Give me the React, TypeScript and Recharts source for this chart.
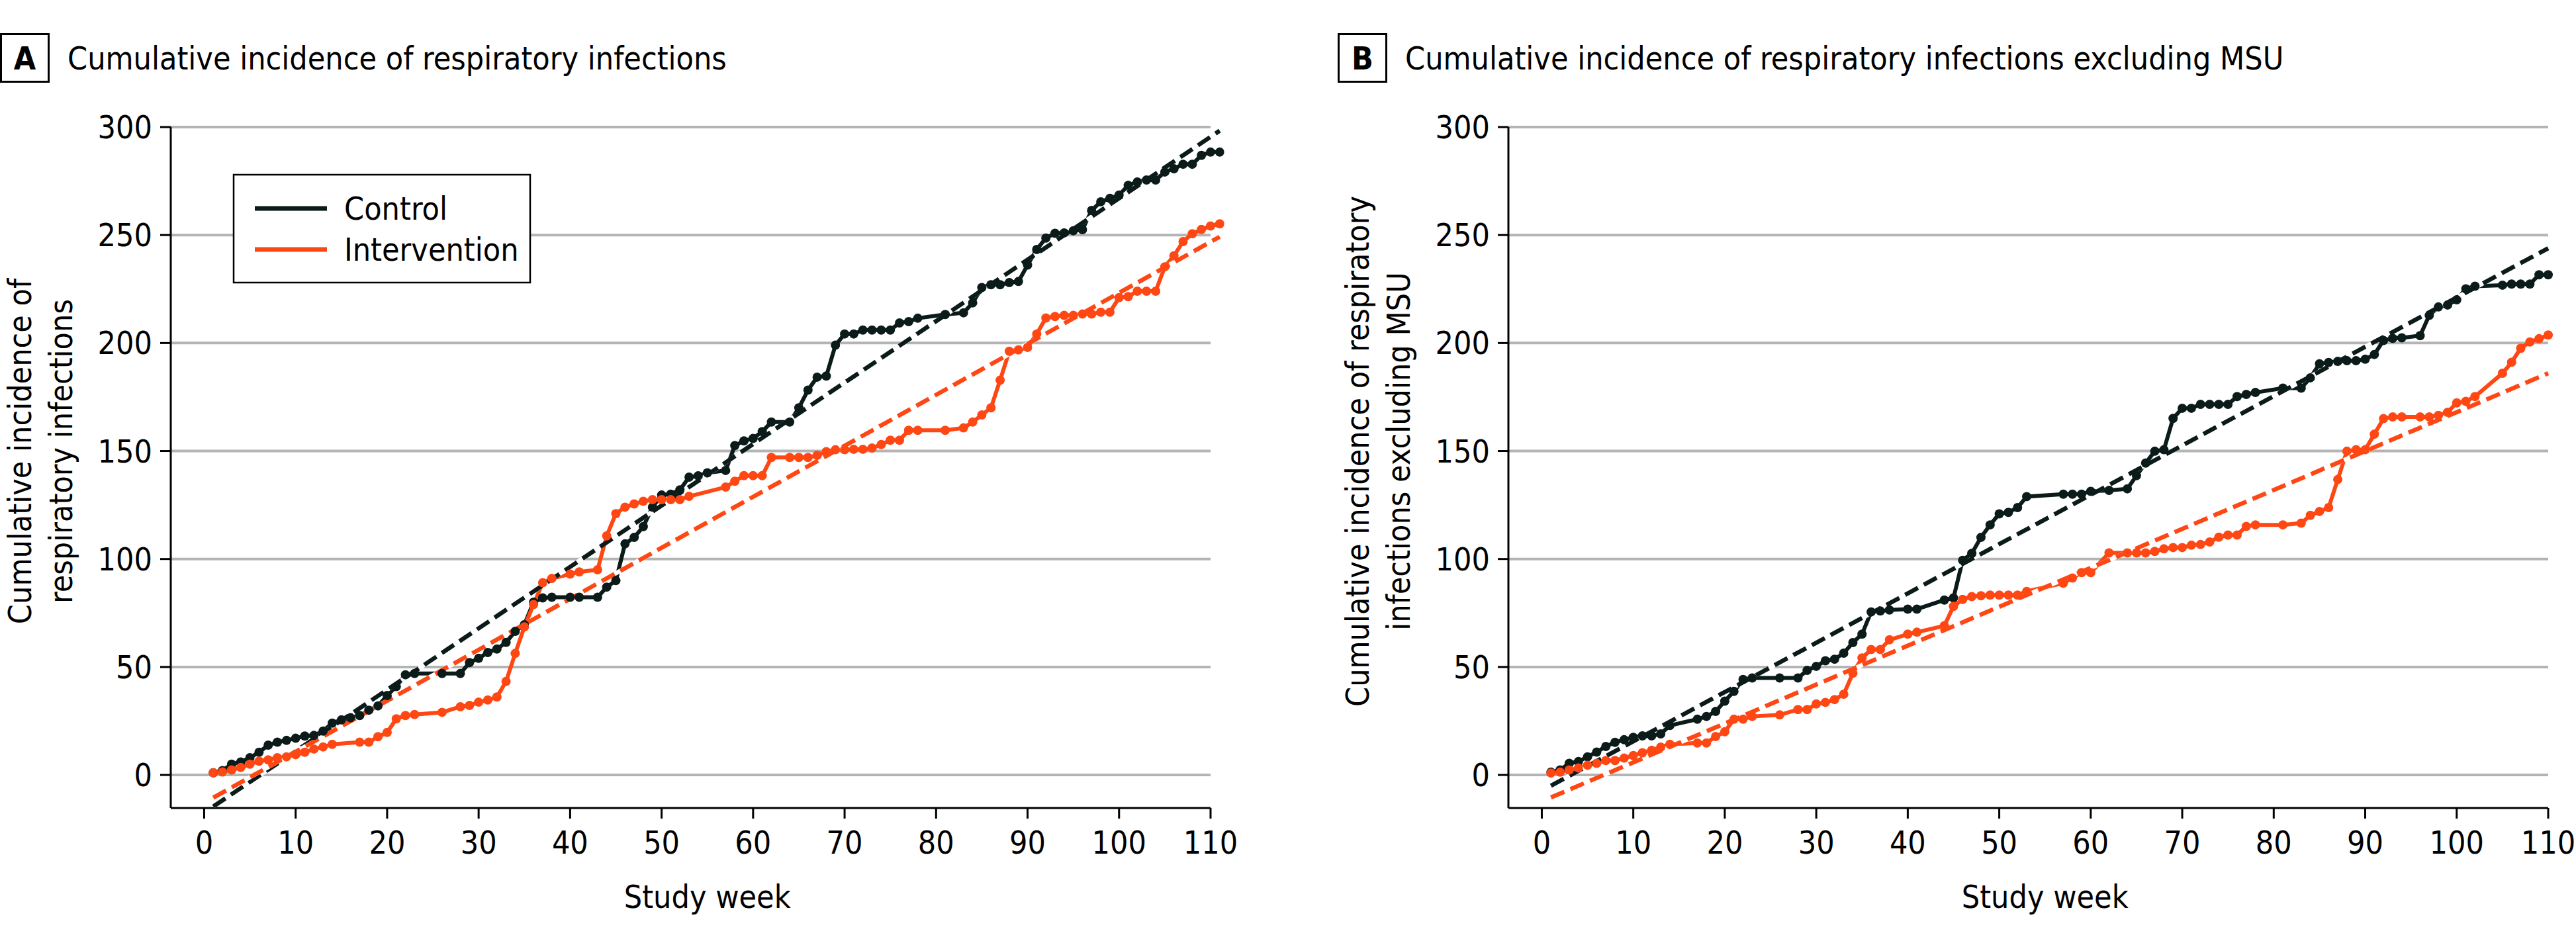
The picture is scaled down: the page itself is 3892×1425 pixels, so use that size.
import React from "react";
import { LineChart, Line, XAxis, YAxis, ReferenceLine } from "recharts";

const FONT = "'DejaVu Sans Condensed', 'DejaVu Sans', sans-serif";
const CONTROL = "#0b1b1a";
const INTERVENTION = "#ff4714";
const GRID = "#b4b4b4";

// axis ranges (study week / cumulative count)
const X_MIN = -3.65;
const X_MAX = 111.5;
const X_END = 110;
const Y_MIN = -15.3;
const Y_MAX = 300;
const xTicks = [0, 10, 20, 30, 40, 50, 60, 70, 80, 90, 100, 110];
const yTicks = [0, 50, 100, 150, 200, 250, 300];

// panel A: all respiratory infections
const weeksA = [
  1, 2, 3, 4, 5, 6, 7, 8, 9, 10, 11, 12, 13, 14, 15, 16, 17, 18, 19, 20, 21, 22, 23, 26, 28, 29, 30, 31, 32, 33,
  34, 35, 36, 37, 38, 40, 41, 43, 44, 45, 46, 47, 48, 49, 50, 51, 52, 53, 54, 55, 57, 58, 59, 60, 61, 62, 64, 65,
  66, 67, 68, 69, 70, 71, 72, 73, 74, 75, 76, 77, 78, 81, 83, 84, 85, 86, 87, 88, 89, 90, 91, 92, 93, 94, 95, 96,
  97, 98, 99, 100, 101, 102, 103, 104, 105, 106, 107, 108, 109, 110, 111,
];
const controlA = [
  1, 2, 5, 6, 8, 10.5, 13.8, 15.2, 16, 17, 18, 18.3, 20.3, 24, 25.5, 26.5, 27.5, 30, 32, 36.8, 40.9, 46.4, 47,
  47, 47, 52, 54, 56.7, 58.3, 61.4, 66.5, 69.6, 80, 82, 82.3, 82.3, 82.3, 82.3, 87, 90, 107, 110, 115, 124, 129.6,
  130, 132, 137.9, 138.5, 139.9, 141, 152.5, 154.7, 155.8, 159, 163.4, 163.4, 170, 178.2, 184.2, 184.7, 199,
  204.2, 204.2, 206, 206, 206, 206, 209.3, 209.9, 211.5, 213.2, 214, 218.6, 225.7, 227, 227, 228, 228.5, 236.1,
  243.3, 248.6, 250.8, 251, 252, 252.5, 261.4, 265.4, 267, 268.5, 273, 274.6, 275.5, 275.5, 279.2, 280.7, 282.8,
  282.8, 286.9, 288.4, 288.4,
];
const interventionA = [
  1, 1.4, 2.3, 3.5, 5, 6.4, 7, 8, 8.4, 9.4, 10.5, 12, 13, 14.2, null, null, 15.2, 15.2, 17.7, 19.7, 26, 27.5, 28,
  29, 31.6, 32.2, 33.7, 34.7, 36.1, 43.3, 56.3, 68.6, 78.9, 89, 91, 93, 94, 95, 110.7, 121, 124, 125.5, 126.7,
  127.5, 127.5, 127.5, 127.5, 129, null, null, 133.3, 136, 138.6, 138.6, 138.6, 147, 147, 147, 147, 148, 149.7,
  150.6, 150.6, 150.8, 150.8, 151.4, 153, 155, 155, 159.6, 159.6, 159.6, 160.7, 163.4, 166.7, 170, 182.8, 196.2,
  196.8, 198, 204.2, 211.6, 212.3, 212.8, 212.8, 213.4, 213.4, 214.3, 214.3, 221, 221.5, 224, 224, 224, 235.3,
  240.4, 247, 250.6, 252.6, 254.2, 255.2,
];
const trendWeeksA = [1, 111];
const controlTrendA = [-14.6, 298.3];
const interventionTrendA = [-10.5, 249.2];

// panel B: respiratory infections excluding MSU
const weeksB = [
  1, 2, 3, 4, 5, 6, 7, 8, 9, 10, 11, 12, 13, 14, 17, 18, 19, 20, 21, 22, 23, 26, 28, 29, 30, 31, 32, 33, 34, 35,
  36, 37, 38, 40, 41, 44, 45, 46, 47, 48, 49, 50, 51, 52, 53, 57, 58, 59, 60, 62, 64, 65, 66, 67, 68, 69, 70, 71,
  72, 73, 74, 75, 76, 77, 78, 81, 83, 84, 85, 86, 87, 88, 89, 90, 91, 92, 93, 94, 96, 97, 98, 99, 100, 101, 102,
  105, 106, 107, 108, 109, 110,
];
const controlB = [
  1.3, 2.3, 5.4, 6.2, 8.4, 10.6, 13.2, 15.1, 16.3, 17.4, 18.1, 18.1, 19, 22.9, 25.8, 27.1, 29.4, 34.2, 38.7, 44.2,
  44.9, 44.9, 44.9, 48.4, 50.3, 52.9, 53.6, 56.4, 61.3, 65.2, 75.5, 75.9, 76.4, 76.8, 76.8, 81, 82, 99.4, 102.6,
  110, 115.8, 120.9, 121.6, 123.8, 128.9, 130, 130, 130, 131.3, 131.8, 132.5, 138.6, 144.4, 149.9, 150.6, 165.1,
  169.8, 169.8, 171.6, 171.6, 171.6, 171.6, 175.2, 176.2, 177.1, 179.1, 179.1, 183.9, 190.4, 191, 191.5, 191.8,
  191.8, 192.5, 194.7, 201.2, 202.2, 202.4, 203.4, 212.8, 216.7, 217.6, 220, 225.1, 226.3, 226.8, 227.3, 227.3,
  227.3, 231.6, 231.6,
];
const interventionB = [
  0.9, 1.3, 2.3, 3.2, 4.5, 5.4, 6.7, 6.7, 7.8, 9, 10.3, 11.4, 12.9, 14.2, 14.8, 14.8, 17.8, 20, 25.8, 25.8, 27.1,
  27.8, 30.3, 30.3, 32.9, 33.6, 34.9, 37.4, 47.1, 54.2, 58.1, 58.1, 62.6, 65.2, 66.1, 69.1, 78.1, 81.3, 82.6, 83,
  83.3, 83.3, 83.3, 83.3, 85, 88.8, 91.2, 93.7, 93.7, 102.8, 102.8, 102.8, 102.8, 103.5, 104.7, 105.3, 105.3,
  106.4, 106.7, 107.9, 110.1, 111.1, 111.1, 115.1, 115.8, 115.8, 116.6, 120.2, 122, 123.8, 136.8, 149.9, 150.6,
  150.6, 157.8, 165, 165.8, 165.8, 165.8, 165.8, 166.5, 167.9, 172.3, 173, 175.2, 186, 191.1, 197.6, 200.5, 202,
  203.7,
];
const trendWeeksB = [1, 110];
const controlTrendB = [-5, 243.9];
const interventionTrendB = [-10.4, 186];

const legendItems = [
  { label: "Control", color: CONTROL },
  { label: "Intervention", color: INTERVENTION },
];

// layout of one panel, in page pixels
const CHART_W = 1880;
const CHART_H = 1425;
const PLOT_LEFT = 258;
const PLOT_TOP = 192;
const PLOT_BOTTOM = 1221;
const PX_PER_WEEK = 13.823;
const PLOT_W = (X_MAX - X_MIN) * PX_PER_WEEK;
const Y_AXIS_W = 80;
const X_AXIS_H = 150;
const SERIES_W = 6;
const TREND_W = 6.5;
const DASH = "22 10";

function Panel({ left, letter, title, yLines, weeks, control, intervention, trendWeeks, controlTrend, interventionTrend, showLegend }) {
  const rows = weeks.map((w, i) => ({ week: w, control: control[i], intervention: intervention[i] }));
  const trendRows = trendWeeks.map((w, i) => ({ week: w, control: controlTrend[i], intervention: interventionTrend[i] }));
  const tickStyle = { fontSize: 48, fill: "#000", fontFamily: FONT };

  return (
    <div style={{ position: "absolute", left, top: 0, width: CHART_W, height: CHART_H }}>
      <LineChart
        width={CHART_W}
        height={CHART_H}
        margin={{
          top: PLOT_TOP,
          left: PLOT_LEFT - Y_AXIS_W,
          right: CHART_W - PLOT_LEFT - PLOT_W,
          bottom: CHART_H - PLOT_BOTTOM - X_AXIS_H,
        }}
      >
        <XAxis
          type="number"
          dataKey="week"
          domain={[X_MIN, X_MAX]}
          allowDataOverflow
          ticks={xTicks}
          interval={0}
          height={X_AXIS_H}
          axisLine={false}
          tickLine={{ stroke: "#000", strokeWidth: 3 }}
          tickSize={16}
          tickMargin={19}
          tick={tickStyle}
        />
        <YAxis
          type="number"
          domain={[Y_MIN, Y_MAX]}
          allowDataOverflow
          ticks={yTicks}
          interval={0}
          width={Y_AXIS_W}
          axisLine={{ stroke: "#000", strokeWidth: 3 }}
          tickLine={{ stroke: "#000", strokeWidth: 3 }}
          tickSize={16}
          tickMargin={12}
          tick={tickStyle}
        />
        {yTicks.map((v) => (
          <ReferenceLine
            key={v}
            segment={[
              { x: X_MIN, y: v },
              { x: X_END, y: v },
            ]}
            stroke={GRID}
            strokeWidth={4}
          />
        ))}
        <ReferenceLine
          segment={[
            { x: X_MIN, y: Y_MIN },
            { x: X_END, y: Y_MIN },
          ]}
          stroke="#000"
          strokeWidth={3}
        />
        <Line
          data={rows}
          dataKey="control"
          stroke={CONTROL}
          strokeWidth={SERIES_W}
          dot={{ r: 7, fill: CONTROL, strokeWidth: 0 }}
          activeDot={false}
          connectNulls
          isAnimationActive={false}
        />
        <Line
          data={rows}
          dataKey="intervention"
          stroke={INTERVENTION}
          strokeWidth={SERIES_W}
          dot={{ r: 7, fill: INTERVENTION, strokeWidth: 0 }}
          activeDot={false}
          connectNulls
          isAnimationActive={false}
        />
        {/* white under-stroke so the dash gaps read as breaks */}
        <Line data={trendRows} dataKey="control" stroke="#fff" strokeWidth={TREND_W} dot={false} activeDot={false} isAnimationActive={false} />
        <Line
          data={trendRows}
          dataKey="control"
          stroke={CONTROL}
          strokeWidth={TREND_W}
          strokeDasharray={DASH}
          dot={false}
          activeDot={false}
          isAnimationActive={false}
        />
        <Line data={trendRows} dataKey="intervention" stroke="#fff" strokeWidth={TREND_W} dot={false} activeDot={false} isAnimationActive={false} />
        <Line
          data={trendRows}
          dataKey="intervention"
          stroke={INTERVENTION}
          strokeWidth={TREND_W}
          strokeDasharray={DASH}
          dot={false}
          activeDot={false}
          isAnimationActive={false}
        />
      </LineChart>

      <svg
        width={CHART_W}
        height={CHART_H}
        style={{ position: "absolute", left: 0, top: 0, pointerEvents: "none" }}
        fontFamily={FONT}
        fontSize={48}
      >
        <rect x={1.5} y={51.5} width={72} height={72} fill="none" stroke="#000" strokeWidth={3} />
        <text x={37.5} y={105} textAnchor="middle" fontWeight="bold">
          {letter}
        </text>
        <text x={102} y={105}>{title}</text>
        {yLines.map((line, i) => (
          <text key={i} transform={`translate(${47 + i * 62}, 682) rotate(-90)`} textAnchor="middle">
            {line}
          </text>
        ))}
        <text x={PLOT_LEFT + (55 - X_MIN) * PX_PER_WEEK} y={1372} textAnchor="middle">
          Study week
        </text>
        {showLegend && (
          <g>
            <rect x={353} y={264} width={448} height={163} fill="#fff" stroke="#000" strokeWidth={2.5} />
            {legendItems.map((item, i) => (
              <g key={item.label}>
                <line x1={385} x2={494} y1={315 + i * 62} y2={315 + i * 62} stroke={item.color} strokeWidth={7} />
                <text x={520} y={332 + i * 62}>
                  {item.label}
                </text>
              </g>
            ))}
          </g>
        )}
      </svg>
    </div>
  );
}

export default function App() {
  return (
    <div style={{ position: "absolute", left: 0, top: 0, width: 3892, height: 1425, background: "#fff" }}>
      <Panel
        left={0}
        letter="A"
        title="Cumulative incidence of respiratory infections"
        yLines={["Cumulative incidence of", "respiratory infections"]}
        weeks={weeksA}
        control={controlA}
        intervention={interventionA}
        trendWeeks={trendWeeksA}
        controlTrend={controlTrendA}
        interventionTrend={interventionTrendA}
        showLegend
      />
      <Panel
        left={2021}
        letter="B"
        title="Cumulative incidence of respiratory infections excluding MSU"
        yLines={["Cumulative incidence of respiratory", "infections excluding MSU"]}
        weeks={weeksB}
        control={controlB}
        intervention={interventionB}
        trendWeeks={trendWeeksB}
        controlTrend={controlTrendB}
        interventionTrend={interventionTrendB}
        showLegend={false}
      />
    </div>
  );
}
